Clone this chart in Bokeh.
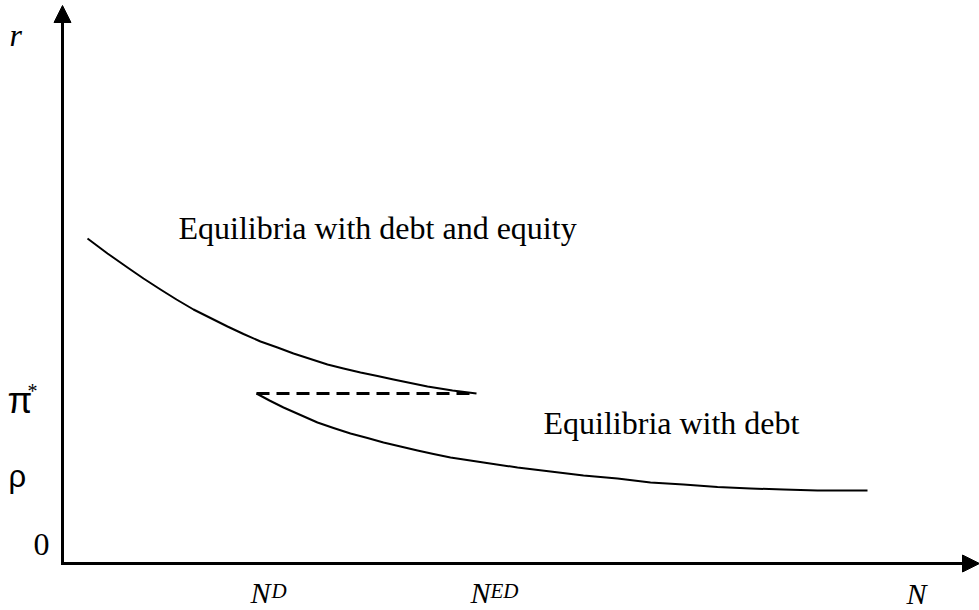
from bokeh.plotting import figure
from bokeh.models import Range1d, Arrow, NormalHead
from bokeh.core.properties import value
from bokeh.embed import file_html
from bokeh.resources import INLINE

# ---- data (arbitrary units) ----
upper_N = [0.25, 0.45, 0.65, 0.81, 0.98, 1.14, 1.31, 1.48, 1.65, 1.81, 1.98,
           2.15, 2.31, 2.48, 2.65, 2.81, 2.98, 3.15, 3.31, 3.48, 3.65, 3.90, 4.14]
upper_r = [3.25, 3.10, 2.96, 2.85, 2.74, 2.64, 2.54, 2.455, 2.37, 2.295, 2.22,
           2.16, 2.10, 2.045, 1.99, 1.95, 1.91, 1.875, 1.84, 1.805, 1.77, 1.73, 1.70]

lower_N = [1.94, 2.07, 2.21, 2.38, 2.55, 2.71, 2.88, 3.05, 3.21, 3.38, 3.55, 3.71,
           3.88, 4.21, 4.55, 4.88, 5.21, 5.55, 5.88, 6.21, 6.55, 6.88, 7.21, 7.55, 8.05]
lower_r = [1.70, 1.63, 1.56, 1.485, 1.41, 1.355, 1.30, 1.255, 1.21, 1.17, 1.13, 1.095,
           1.06, 1.01, 0.96, 0.92, 0.88, 0.85, 0.81, 0.79, 0.765, 0.75, 0.74, 0.73, 0.73]

N_D = 1.94
N_ED = 4.14
pi_star = 1.70

region_labels = ["Equilibria with debt and equity", "Equilibria with debt"]

# ---- figure ----
W, H = 979, 610
p = figure(width=W, height=H, output_backend="svg", toolbar_location=None,
           x_range=Range1d(-0.62, 9.17), y_range=Range1d(-0.47, 5.63),
           min_border=0, outline_line_color=None)
p.xaxis.visible = False
p.yaxis.visible = False
p.grid.visible = False
p.background_fill_color = "white"
p.border_fill_color = "white"

# axes with arrows
p.add_layout(Arrow(end=NormalHead(size=17, fill_color="black", line_color="black", line_width=1),
                   x_start=0, y_start=-0.015, x_end=0, y_end=5.58,
                   line_width=3, line_color="black"))
p.add_layout(Arrow(end=NormalHead(size=17, fill_color="black", line_color="black", line_width=1),
                   x_start=-0.015, y_start=0, x_end=9.17, y_end=0,
                   line_width=3, line_color="black"))

# curves
p.line(upper_N, upper_r, line_width=2, line_color="black", line_join="round")
p.line(lower_N, lower_r, line_width=2, line_color="black", line_join="round")
p.line([N_D, N_ED], [pi_star, pi_star], line_width=3, line_color="black", line_dash="13 7")

serif = value("Liberation Serif")
sans = value("Liberation Sans")

def px(x):
    return (x - 62) / 100.0

def py(y):
    return (563 - y) / 100.0

def label(x, y, t, size, font=serif, style="normal"):
    # compensate for the renderer's baseline placement
    y = y - 0.34 * size
    p.text(x=[px(x)], y=[py(y)], text=[t], text_font=font, text_font_size=f"{size}px",
           text_font_style=style, text_align="left", text_baseline="alphabetic",
           text_color="black")

# axis labels
label(9, 45, "r", 32, style="italic")
label(7, 412, "π", 36, font=sans)
label(27, 397, "*", 20)
label(8, 487, "ρ", 31, font=sans)
label(33, 555, "0", 32)

label(250, 602, "N", 30, style="italic")
label(271, 598, "D", 21, style="italic")
label(470, 602, "N", 30, style="italic")
label(490, 598, "ED", 21, style="italic")
label(906, 603, "N", 30, style="italic")

# region labels
label(178, 238, region_labels[0], 32)
label(543, 433, region_labels[1], 32)

open("out.html", "w").write(file_html(p, INLINE))
